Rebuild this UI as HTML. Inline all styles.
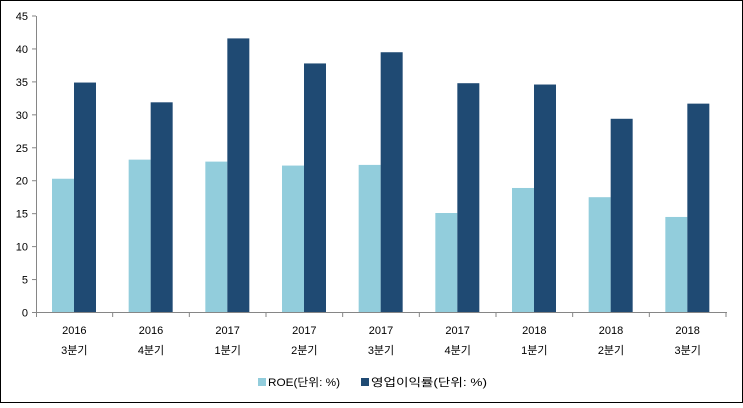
<!DOCTYPE html>
<html><head><meta charset="utf-8"><style>body{margin:0;background:#fff}</style></head><body>
<svg width="743" height="403" xmlns="http://www.w3.org/2000/svg" font-family="'Liberation Sans','Noto Sans CJK KR',sans-serif" font-size="11" fill="#000">
<rect x="0.5" y="0.5" width="742" height="402" fill="#fff" stroke="#000"/>
<g id="bars"></g>
<line x1="36.5" y1="16" x2="36.5" y2="313" stroke="#868686"/>
<line x1="36" y1="312.5" x2="727" y2="312.5" stroke="#868686"/>
<g id="y"></g><g id="x"></g>
<rect x="258" y="378" width="8" height="8" fill="#92cddc"/>
<text x="268" y="386" textLength="72" lengthAdjust="spacingAndGlyphs">ROE(단위: %)</text>
<rect x="361" y="378" width="8" height="8" fill="#1f4a73"/>
<text x="371" y="386" textLength="116" lengthAdjust="spacingAndGlyphs">영업이익률(단위: %)</text>
<script>
var ns="http://www.w3.org/2000/svg";
function el(p,t,a,txt){var e=document.createElementNS(ns,t);for(var k in a)e.setAttribute(k,a[k]);if(txt!==undefined)e.textContent=String(txt);document.getElementById(p).appendChild(e);}
var y0=312.5,s=296.5/45;
for(var v=0;v<=45;v+=5){var y=y0-v*s;el('y','line',{x1:32,x2:36,y1:y,y2:y,stroke:'#868686'});el('y','text',{x:28,y:y+4,'text-anchor':'end'},v);}
var r=[20.3,23.2,22.9,22.3,22.4,15.1,18.9,17.5,14.5],o=[34.9,31.9,41.6,37.8,39.5,34.8,34.6,29.4,31.7];
var yr=['2016','2016','2017','2017','2017','2017','2018','2018','2018'],q=['3','4','1','2','3','4','1','2','3'];
var w=690/9;
for(var i=0;i<9;i++){var x=36+i*w;
el('bars','rect',{x:x+16,y:y0-r[i]*s,width:22,height:r[i]*s,fill:'#92cddc'});
el('bars','rect',{x:x+38,y:y0-o[i]*s,width:22,height:o[i]*s,fill:'#1f4a73'});
el('x','line',{x1:x+w,x2:x+w,y1:313,y2:317,stroke:'#868686'});
el('x','text',{x:x+w/2,y:334,'text-anchor':'middle'},yr[i]);
el('x','text',{x:x+w/2,y:354,'text-anchor':'middle'},q[i]+'분기');}
el('x','line',{x1:36.5,x2:36.5,y1:313,y2:317,stroke:'#868686'});
</script>
</svg>
</body></html>
